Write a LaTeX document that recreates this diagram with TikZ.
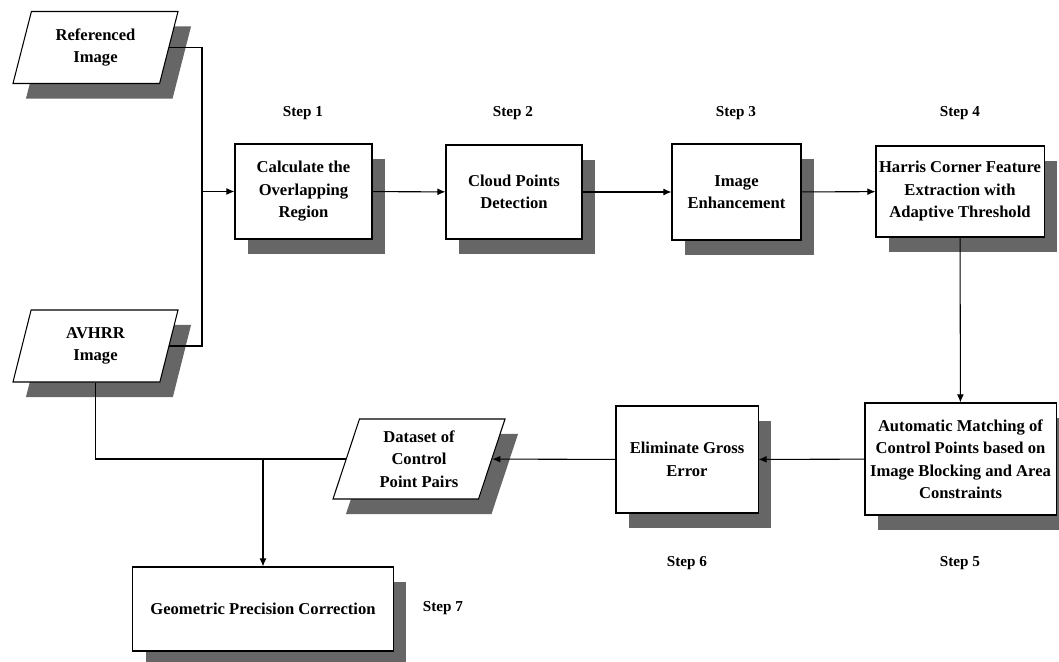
\documentclass[tikz,border=0pt]{standalone}
\usepackage{fontspec}
\setmainfont{Liberation Serif}
\usetikzlibrary{arrows.meta,scopes,shapes.geometric,shadows}
\definecolor{shadowgray}{RGB}{102,102,102}
\tikzstyle{process} = [rectangle, text centered, align=center, draw=black, line width=0.75pt, fill=white, inner sep=2pt, font=\fontsize{11.8}{16}\selectfont\bfseries, drop shadow={shadow xshift=0.325cm, shadow yshift=-0.375cm, fill=shadowgray, opacity=1}]
\tikzstyle{data} = [process, trapezium, trapezium left angle=67, trapezium right angle=113, trapezium stretches body=true]
\tikzstyle{steplabel} = [font=\fontsize{10.8}{12}\selectfont\bfseries]

\begin{document}
\begin{tikzpicture}[x=0.025cm, y=-0.025cm]
        \useasboundingbox (0,0) rectangle (1059,662);
        \node[data, minimum width=4.125cm, minimum height=1.8cm] (ref) at (95.5,47.5) {Referenced\\Image};
        \node[data, minimum width=4.125cm, minimum height=1.8cm] (avhrr) at (95.5,346) {AVHRR\\Image};
        \node[process, minimum width=3.425cm, minimum height=2.375cm] (calc) at (303.5,191.5) {Calculate the\\Overlapping\\Region};
        \node[process, minimum width=3.4cm, minimum height=2.35cm] (cloud) at (514,192) {Cloud Points\\Detection};
        \node[process, minimum width=3.225cm, minimum height=2.4cm] (enh) at (736.5,192) {Image\\Enhancement};
        \node[process, minimum width=4.2cm, minimum height=2.275cm] (harris) at (960,191.5) {Harris Corner Feature\\Extraction with\\Adaptive Threshold};
        \node[process, minimum width=4.775cm, minimum height=2.8cm] (auto) at (960.5,459) {Automatic Matching of\\Control Points based on\\Image Blocking and Area\\Constraints};
        \node[process, minimum width=3.55cm, minimum height=2.675cm] (elim) at (687,459.5) {Eliminate Gross\\Error};
        \node[data, minimum width=4.3cm, minimum height=2cm] (dset) at (419,459) {Dataset of\\Control\\Point Pairs};
        \node[process, minimum width=6.5cm, minimum height=2.1cm] (geo) at (263,609) {Geometric Precision Correction};
        \node[steplabel] (s1) at (303,113) {Step 1};
        \node[steplabel] (s2) at (513,113) {Step 2};
        \node[steplabel] (s3) at (736,113) {Step 3};
        \node[steplabel] (s4) at (960,113) {Step 4};
        \node[steplabel] (s5) at (960,563) {Step 5};
        \node[steplabel] (s6) at (687,563) {Step 6};
        \node[steplabel] (s7) at (443,608) {Step 7};
        \coordinate (jin) at (202,191.5);
        \coordinate (jout) at (263,459);
        \draw[line width=0.75pt] (ref.east) -| (jin) |- (avhrr.east);
        \draw[line width=0.75pt] (avhrr.south) |- (dset.west);
    \begin{scope}[-{Latex[length=2mm,width=1.7mm]}, line width=0.75pt]
        \draw (jin) -- (calc.west);
        \draw (calc) -- (cloud);
        \draw (cloud) -- (enh);
        \draw (enh) -- (harris);
        \draw (harris) -- (auto);
        \draw (auto) -- (elim);
        \draw (elim) -- (dset);
        \draw (jout) -- (geo);
    \end{scope}
    \end{tikzpicture}
\end{document}
